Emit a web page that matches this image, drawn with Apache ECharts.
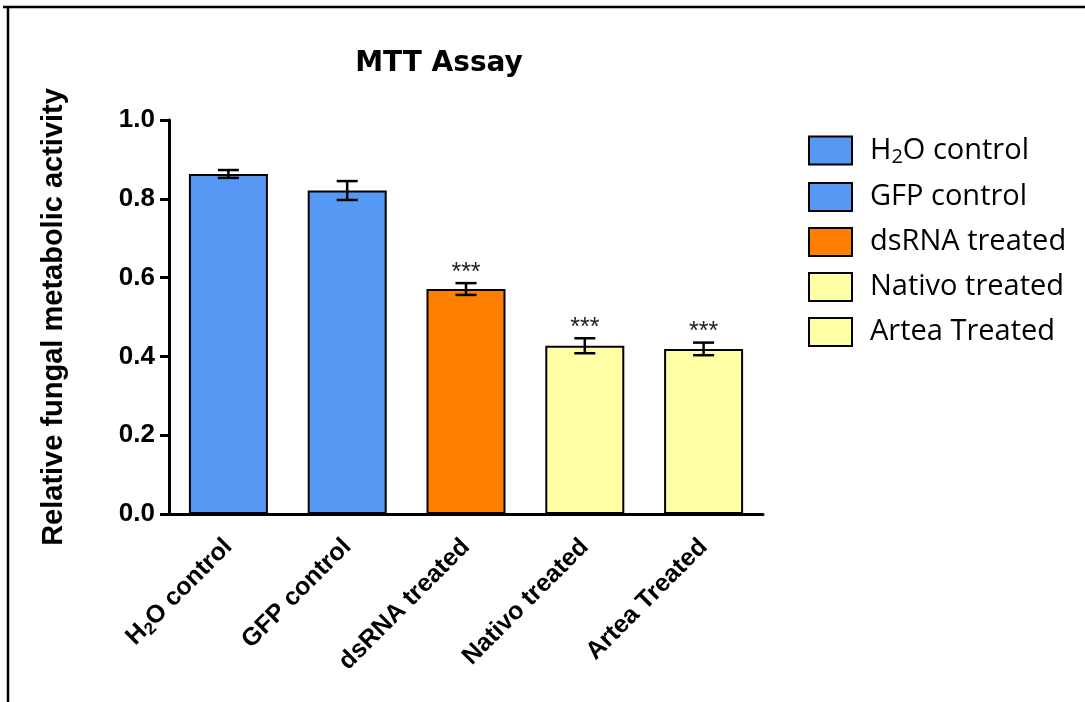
<!DOCTYPE html>
<html>
<head>
<meta charset="utf-8">
<script src="https://cdn.jsdelivr.net/npm/echarts@6/dist/echarts.min.js"></script>
<style>
  html, body { margin: 0; padding: 0; background: #fff; }
  #chart { width: 1085px; height: 702px; }
</style>
</head>
<body>
<div id="chart"></div>
<script>
  // values
  const categories = ['H2O control', 'GFP control', 'dsRNA treated', 'Nativo treated', 'Artea Treated'];
  const means = [0.863, 0.821, 0.571, 0.427, 0.419];
  const errors = [0.010, 0.024, 0.015, 0.019, 0.016];
  const stars = ['', '', '***', '***', '***'];
  const barColors = ['#5599F5', '#5599F5', '#FF8000', '#FFFFA6', '#FFFFA6'];

  const FONT = 'Liberation Sans';

  // "H2O" gets a subscript 2
  function richName(name, style) {
    if (name.indexOf('H2O') === 0) {
      return '{' + style + '|H}{' + style + 'Sub|2}{' + style + '|' + name.slice(2) + '}';
    }
    return '{' + style + '|' + name + '}';
  }

  const barSeries = categories.map((name, i) => ({
    name: name,
    type: 'bar',
    stack: 'all',
    barWidth: 79,
    itemStyle: { color: barColors[i], borderColor: '#000', borderWidth: 2 },
    data: categories.map((c, j) => (j === i ? means[i] : '-'))
  }));

  const errData = categories.map((c, i) => [i, means[i] - errors[i], means[i] + errors[i]]);

  const errSeries = {
    type: 'custom',
    name: 'err',
    z: 10,
    data: errData,
    renderItem: function (params, api) {
      const x = api.value(0);
      const lo = api.coord([x, api.value(1)]);
      const hi = api.coord([x, api.value(2)]);
      const half = 10.5;
      const st = { stroke: '#000', lineWidth: 2.5 };
      const children = [
        { type: 'line', shape: { x1: lo[0], y1: lo[1], x2: hi[0], y2: hi[1] }, style: st },
        { type: 'line', shape: { x1: hi[0] - half, y1: hi[1], x2: hi[0] + half, y2: hi[1] }, style: st },
        { type: 'line', shape: { x1: lo[0] - half, y1: lo[1], x2: lo[0] + half, y2: lo[1] }, style: st }
      ];
      const s = stars[params.dataIndex];
      if (s) {
        children.push({
          type: 'text',
          style: {
            text: s, x: hi[0], y: hi[1] + 2,
            align: 'center', verticalAlign: 'bottom',
            font: '25px "' + FONT + '"', fill: '#222'
          }
        });
      }
      return { type: 'group', children: children };
    }
  };

  const chart = echarts.init(document.getElementById('chart'));
  const option = {
    animation: false,
    backgroundColor: '#fff',
    title: {
      text: 'MTT Assay',
      left: 434,
      top: 45,
      textAlign: 'center',
      textStyle: { fontFamily: 'DejaVu Sans', fontWeight: 'bold', fontSize: 28, color: '#000' }
    },
    legend: {
      data: categories,
      orient: 'vertical',
      left: 803,
      top: 129,
      itemWidth: 43,
      itemHeight: 28,
      itemGap: 15,
      icon: 'rect',
      itemStyle: { borderColor: '#000', borderWidth: 2 },
      formatter: name => richName(name, 'l'),
      textStyle: {
        padding: [0, 0, 0, 13],
        rich: {
          l: { fontFamily: 'Open Sans', fontSize: 29, color: '#000', lineHeight: 28 },
          lSub: { fontFamily: 'Open Sans', fontSize: 20, color: '#000', lineHeight: 28, padding: [13, 0, 0, 0] }
        }
      }
    },
    grid: { left: 169, width: 594, top: 120, bottom: 188 },
    xAxis: {
      type: 'category',
      data: categories,
      axisLine: { lineStyle: { color: '#000', width: 3 } },
      axisTick: { alignWithLabel: true, length: 10, lineStyle: { color: '#000', width: 3 } },
      axisLabel: {
        rotate: 45,
        margin: 29,
        interval: 0,
        formatter: v => richName(v, 'x'),
        rich: {
          x: { fontFamily: FONT, fontWeight: 'bold', fontSize: 25, color: '#000', lineHeight: 28 },
          xSub: { fontFamily: FONT, fontWeight: 'bold', fontSize: 17, color: '#000', lineHeight: 28, padding: [12, 0, 0, 0] }
        }
      }
    },
    yAxis: {
      type: 'value',
      min: 0,
      max: 1,
      interval: 0.2,
      name: 'Relative fungal metabolic activity',
      nameLocation: 'middle',
      nameGap: 101,
      nameTextStyle: { fontFamily: FONT, fontWeight: 'bold', fontSize: 29, color: '#000' },
      splitLine: { show: false },
      axisLine: { show: true, lineStyle: { color: '#000', width: 3 } },
      axisTick: { show: true, length: 9, lineStyle: { color: '#000', width: 3 } },
      axisLabel: {
        margin: 14,
        formatter: v => v.toFixed(1),
        fontFamily: FONT, fontWeight: 'bold', fontSize: 26, color: '#000'
      }
    },
    series: barSeries.concat([errSeries]),
    graphic: [
      { type: 'line', shape: { x1: 3, y1: 7, x2: 1085, y2: 7 }, style: { stroke: '#000', lineWidth: 2.5 } },
      { type: 'line', shape: { x1: 8, y1: 7, x2: 8, y2: 702 }, style: { stroke: '#000', lineWidth: 2.5 } }
    ]
  };
  chart.setOption(option);
</script>
</body>
</html>
